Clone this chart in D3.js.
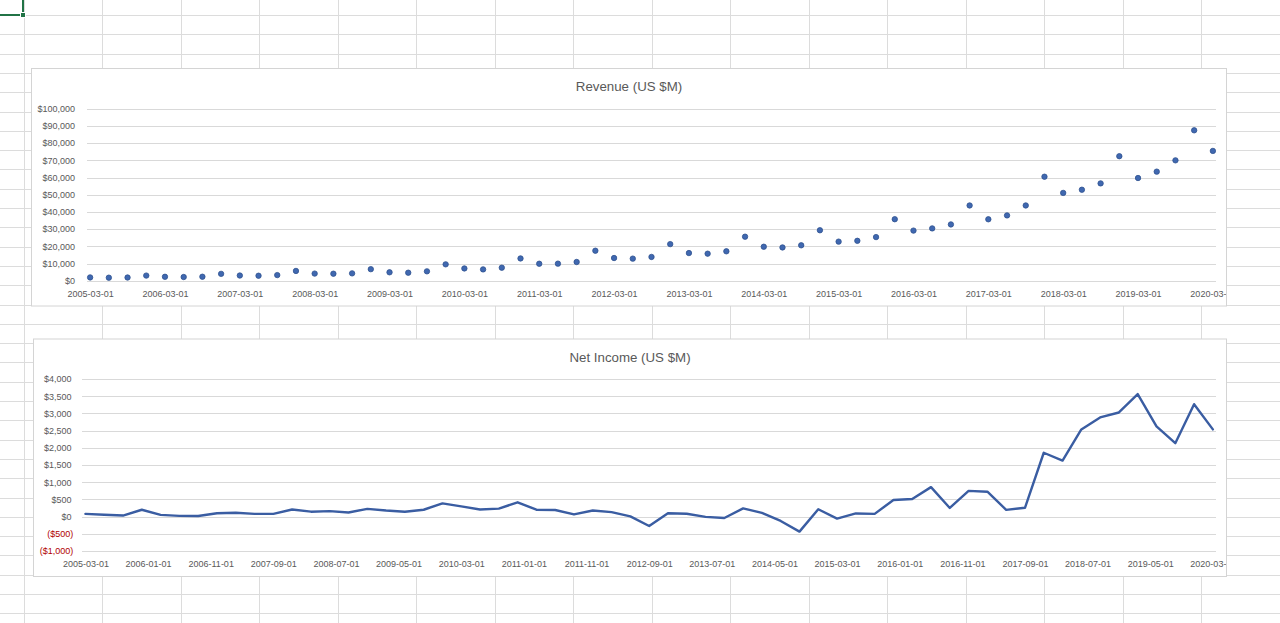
<!DOCTYPE html>
<html><head><meta charset="utf-8">
<script src="https://cdn.jsdelivr.net/npm/d3@7"></script>
<style>
html,body{margin:0;padding:0;background:#fff;overflow:hidden}
svg{display:block}
text{font-family:"Liberation Sans",Arial,sans-serif}
</style>
</head><body>
<svg id="c" width="1280" height="623"></svg>
<script>
// ---------- DATA ----------
const quarterDates = [
 "2005-03-01","2005-06-01","2005-09-01","2005-12-01",
 "2006-03-01","2006-06-01","2006-09-01","2006-12-01",
 "2007-03-01","2007-06-01","2007-09-01","2007-12-01",
 "2008-03-01","2008-06-01","2008-09-01","2008-12-01",
 "2009-03-01","2009-06-01","2009-09-01","2009-12-01",
 "2010-03-01","2010-06-01","2010-09-01","2010-12-01",
 "2011-03-01","2011-06-01","2011-09-01","2011-12-01",
 "2012-03-01","2012-06-01","2012-09-01","2012-12-01",
 "2013-03-01","2013-06-01","2013-09-01","2013-12-01",
 "2014-03-01","2014-06-01","2014-09-01","2014-12-01",
 "2015-03-01","2015-06-01","2015-09-01","2015-12-01",
 "2016-03-01","2016-06-01","2016-09-01","2016-12-01",
 "2017-03-01","2017-06-01","2017-09-01","2017-12-01",
 "2018-03-01","2018-06-01","2018-09-01","2018-12-01",
 "2019-03-01","2019-06-01","2019-09-01","2019-12-01",
 "2020-03-01"
];
const revenue = [
 1902,1753,1858,2977, 2279,2139,2307,3986, 3015,2886,3262,5673,
 4135,4063,4264,6704, 4889,4651,5449,9519, 7131,6566,7560,12948,
 9857,9913,10876,17431, 13185,12834,13806,21268, 16070,15704,17092,25587,
 19741,19340,20579,29328, 22717,23185,25358,35747, 29128,30404,32714,43741,
 35714,37955,43744,60453, 51042,52886,56576,72383, 59700,63404,69981,87437,
 75452
];
const netIncome = [
 78,52,30,199, 51,22,19,98, 111,78,80,207,
 143,158,118,225, 177,142,199,384, 299,207,231,416,
 201,191,63,177, 130,7,-274,97, 82,-7,-41,239,
 108,-126,-437,214, -57,92,79,482, 513,857,252,749,
 724,197,256,1856, 1629,2534,2883,3027, 3561,2625,2134,3268,
 2535
];
const revenueTicks = [0,10000,20000,30000,40000,50000,60000,70000,80000,90000,100000];
const incomeTicks = [-1000,-500,0,500,1000,1500,2000,2500,3000,3500,4000];
const revenueDateLabels = ["2005-03-01","2006-03-01","2007-03-01","2008-03-01","2009-03-01","2010-03-01","2011-03-01","2012-03-01","2013-03-01","2014-03-01","2015-03-01","2016-03-01","2017-03-01","2018-03-01","2019-03-01","2020-03-01"];
const incomeDateLabels = ["2005-03-01","2006-01-01","2006-11-01","2007-09-01","2008-07-01","2009-05-01","2010-03-01","2011-01-01","2011-11-01","2012-09-01","2013-07-01","2014-05-01","2015-03-01","2016-01-01","2016-11-01","2017-09-01","2018-07-01","2019-05-01","2020-03-01"];
const titles = ["Revenue (US $M)","Net Income (US $M)"];

// ---------- HELPERS ----------
const monthIdx = s => { const [y,m] = s.split("-").map(Number); return (y-2005)*12 + (m-3); };
const svg = d3.select("#c");
const labelColor = "#595959", gridColor = "#d9d9d9", seriesColor = "#3a5da2";
const fmtMoney = d3.format("$,.0f");
const fmtAcct = v => v < 0 ? "(" + fmtMoney(-v) + ")" : fmtMoney(v);

// ---------- SPREADSHEET BACKGROUND ----------
const sheet = svg.append("g");
const cols = d3.range(0, 17).map(k => Math.round(23.5 + 78.5*k) + 0.5);
const rows = d3.range(0, 33).map(k => Math.round(15 + 19.3*k) + 0.5);
sheet.selectAll("line.col").data(cols).join("line")
  .attr("x1", d => d).attr("x2", d => d).attr("y1", 0).attr("y2", 623)
  .attr("stroke", "#dcdcdc").attr("stroke-width", 1);
sheet.selectAll("line.row").data(rows).join("line")
  .attr("x1", 0).attr("x2", 1280).attr("y1", d => d).attr("y2", d => d)
  .attr("stroke", "#dcdcdc").attr("stroke-width", 1);
// selected cell
sheet.append("path").attr("d", "M0,15 H23 V0").attr("fill", "none")
  .attr("stroke", "#217346").attr("stroke-width", 2);
sheet.append("rect").attr("x", 20.5).attr("y", 12.5).attr("width", 5).attr("height", 5)
  .attr("fill", "#217346").attr("stroke", "#fff").attr("stroke-width", 1);

// ---------- CHART BUILDER ----------
function chart(cfg) {
  const g = svg.append("g");
  const clipId = "clip" + cfg.id;
  svg.append("defs").append("clipPath").attr("id", clipId)
    .append("rect").attr("x", cfg.box[0]).attr("y", cfg.box[1]).attr("width", cfg.box[2]).attr("height", cfg.box[3]);
  g.append("rect").attr("x", cfg.box[0] + 0.5).attr("y", cfg.box[1] + 0.5)
    .attr("width", cfg.box[2]).attr("height", cfg.box[3])
    .attr("fill", "#fff").attr("stroke", "#d4d4d4").attr("stroke-width", 1);
  const inner = g.append("g").attr("clip-path", `url(#${clipId})`);

  const x = d3.scaleLinear().domain([-0.5, 180.5]).range(cfg.xRange);
  const y = d3.scaleLinear().domain(cfg.yDomain).range(cfg.yRange);

  // title
  inner.append("text").attr("x", cfg.box[0] + cfg.box[2]/2 + 0.5).attr("y", cfg.titleY)
    .attr("text-anchor", "middle").attr("dy", "0.35em")
    .attr("font-size", "13.3px").attr("fill", labelColor).text(cfg.title);

  // y axis with gridlines
  const yAxis = d3.axisLeft(y).tickValues(cfg.yTicks).tickFormat(cfg.yFmt)
    .tickSize(-(cfg.xRange[1] - cfg.xRange[0])).tickPadding(cfg.yPad);
  const ya = inner.append("g").attr("transform", `translate(${cfg.xRange[0]},0)`).call(yAxis);
  ya.select(".domain").remove();
  ya.selectAll(".tick line").attr("stroke", gridColor).attr("stroke-width", 1)
    .attr("shape-rendering", "crispEdges");
  ya.selectAll(".tick text")
    .attr("font-family", '"Liberation Sans",Arial,sans-serif').attr("font-size", "9px")
    .attr("fill", d => d < 0 ? "#b00000" : labelColor)
    .attr("dx", d => (cfg.paren && d >= 0) ? -1.7 : 0);

  // x axis labels
  const xAxis = d3.axisBottom(x).tickValues(cfg.xLabels.map(monthIdx))
    .tickFormat((d, i) => cfg.xLabels[i]).tickSize(0).tickPadding(0);
  const xa = inner.append("g").attr("transform", `translate(0,${cfg.xLabelY})`).call(xAxis);
  xa.select(".domain").remove();
  xa.selectAll(".tick text")
    .attr("font-family", '"Liberation Sans",Arial,sans-serif').attr("font-size", "9px")
    .attr("fill", labelColor).attr("y", 0).attr("dy", "0.35em");

  const pts = quarterDates.map((d, i) => ({ m: monthIdx(d), v: cfg.values[i] }));
  if (cfg.type === "dots") {
    inner.append("g").selectAll("circle").data(pts).join("circle")
      .attr("cx", d => x(d.m)).attr("cy", d => y(d.v)).attr("r", 2.7)
      .attr("fill", "#4068b0").attr("stroke", "#2f528f").attr("stroke-width", 0.8);
  } else {
    inner.append("path").datum(pts)
      .attr("d", d3.line().x(d => x(d.m)).y(d => y(d.v)))
      .attr("fill", "none").attr("stroke", seriesColor).attr("stroke-width", 2.4)
      .attr("stroke-linejoin", "round").attr("stroke-linecap", "round");
  }
}

chart({
  id: 1, box: [31, 68, 1195, 237.5], title: titles[0], titleY: 86.5,
  xRange: [87, 1216], yDomain: [0, 100000], yRange: [280.7, 108.7],
  yTicks: revenueTicks, yFmt: fmtMoney, yPad: 12, paren: false,
  xLabels: revenueDateLabels, xLabelY: 294.3, values: revenue, type: "dots"
});
chart({
  id: 2, box: [33, 338.5, 1193, 237.5], title: titles[1], titleY: 357,
  xRange: [82.3, 1216], yDomain: [-1000, 4000], yRange: [551, 379],
  yTicks: incomeTicks, yFmt: fmtAcct, yPad: 9, paren: true,
  xLabels: incomeDateLabels, xLabelY: 564.3, values: netIncome, type: "line"
});
</script>
</body></html>
